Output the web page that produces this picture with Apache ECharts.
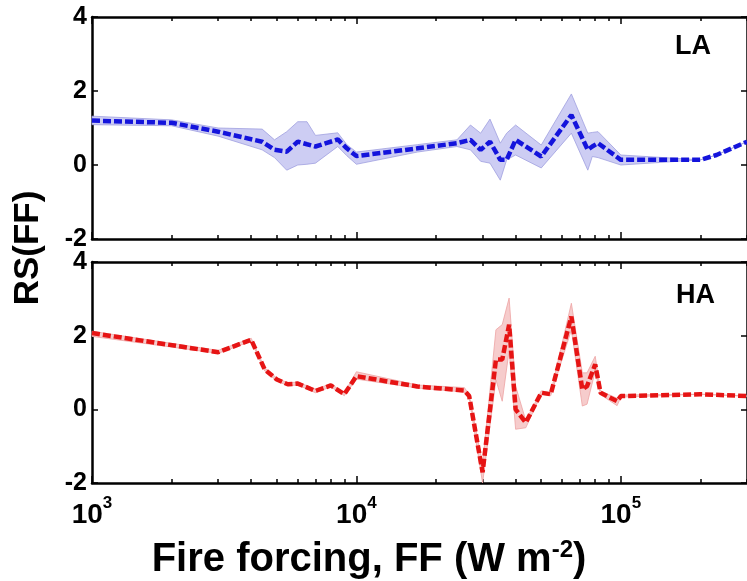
<!DOCTYPE html>
<html><head><meta charset="utf-8">
<script src="https://cdn.jsdelivr.net/npm/echarts@6/dist/echarts.min.js"></script>
<style>html,body{margin:0;padding:0;background:#fff}#c{width:747px;height:581px}</style>
</head><body><div id="c"></div>
<script>
// ---- data (x in W m^-2, values RS(FF)) ----
const laX    = [1000, 2000, 3000, 4400, 4900, 5450, 6000, 6500, 7000, 8500, 9200, 10000, 17000, 24000, 27000, 29500, 32000, 35000, 37000, 40000, 50000, 65000, 75000, 78000, 82000, 100000, 200000, 230000, 300000];
const laMean = [1.20, 1.14, 0.90, 0.63, 0.41, 0.36, 0.63, 0.56, 0.50, 0.69, 0.45, 0.24, 0.45, 0.59, 0.68, 0.41, 0.63, 0.14, 0.14, 0.68, 0.23, 1.35, 0.41, 0.50, 0.59, 0.14, 0.14, 0.27, 0.63];
const laLow  = [1.09, 1.06, 0.78, 0.41, 0.20, -0.14, 0.00, 0.02, 0.05, 0.50, 0.25, 0.02, 0.35, 0.50, 0.41, 0.10, 0.05, -0.41, 0.14, 0.27, -0.08, 0.86, -0.14, 0.23, 0.20, 0.00, 0.14, 0.27, 0.63];
const laHigh = [1.32, 1.22, 1.00, 0.97, 0.68, 0.90, 1.17, 1.17, 0.80, 0.87, 0.55, 0.35, 0.55, 0.68, 1.08, 0.86, 1.24, 0.59, 0.86, 1.08, 0.54, 1.92, 0.86, 0.88, 0.90, 0.27, 0.14, 0.27, 0.63];

const haX    = [1000, 3000, 4000, 4500, 5000, 5500, 6000, 7000, 8000, 9000, 10000, 17000, 25600, 26700, 30000, 33700, 35600, 37800, 40000, 43700, 50000, 54300, 65000, 71500, 74500, 80000, 83800, 96800, 100000, 200000, 300000];
const haMean = [2.07, 1.55, 1.89, 1.08, 0.81, 0.68, 0.70, 0.50, 0.65, 0.41, 0.90, 0.62, 0.51, 0.36, -1.71, 1.35, 1.35, 2.30, 0.00, -0.36, 0.45, 0.41, 2.52, 0.54, 0.63, 1.22, 0.45, 0.22, 0.36, 0.41, 0.36];
const haLow  = [1.98, 1.52, 1.85, 1.04, 0.77, 0.64, 0.66, 0.45, 0.61, 0.37, 0.82, 0.58, 0.47, 0.30, -2.00, 0.80, 0.22, 1.60, -0.54, -0.50, 0.41, 0.37, 2.16, 0.09, 0.14, 1.04, 0.40, 0.10, 0.33, 0.41, 0.36];
const haHigh = [2.12, 1.60, 1.93, 1.12, 0.85, 0.72, 0.74, 0.55, 0.69, 0.45, 1.02, 0.66, 0.59, 0.40, -1.50, 2.16, 2.30, 3.02, 0.63, -0.30, 0.50, 0.45, 2.88, 0.99, 0.99, 1.44, 0.50, 0.30, 0.39, 0.41, 0.36];

const xMin = 1000, xMax = 300000;
const xLabelExponents = [3, 4, 5];
const yTicks = [-2, 0, 2, 4];
const panelNames = ['LA', 'HA'];

// ---- helpers ----
const L = Math.log10;
const FONT = '"Liberation Sans", Arial, sans-serif';
const pairs = (xs, ys) => xs.map((x, i) => [L(x), ys[i]]);

const minorLogs = [];
for (let k = 3; k <= 5; k++) for (let m = 1; m <= 9; m++) { const v = m * Math.pow(10, k); if (v <= xMax) minorLogs.push(L(v)); }
const majorLogs = xLabelExponents.slice();

const grids = [
  { left: 92, top: 17, width: 656, height: 222 },
  { left: 92, top: 262, width: 656, height: 221 }
];

const xAxes = [];
const yAxes = [];
grids.forEach((g, gi) => {
  ['bottom', 'top'].forEach(pos => {
    xAxes.push({
      gridIndex: gi, type: 'value', position: pos, min: L(xMin), max: L(xMax), interval: 1,
      axisLine: { show: true, onZero: false, lineStyle: { color: '#000', width: 2.5 } },
      axisTick: { show: true, inside: true, length: 4, customValues: minorLogs, lineStyle: { color: '#000', width: 1.5 } },
      axisLabel: { show: false },
      splitLine: { show: false }
    });
    xAxes.push({
      gridIndex: gi, type: 'value', position: pos, min: L(xMin), max: L(xMax), interval: 1,
      axisLine: { show: false, onZero: false },
      axisTick: { show: true, inside: true, length: 7, customValues: majorLogs, lineStyle: { color: '#000', width: 1.5 } },
      axisLabel: (gi === 1 && pos === 'bottom') ? {
        show: true, customValues: xLabelExponents, margin: 12,
        formatter: v => '{b|10}{s|' + Math.round(v) + '}',
        rich: {
          b: { fontFamily: FONT, fontWeight: 'bold', fontSize: 28, color: '#000', lineHeight: 40 },
          s: { fontFamily: FONT, fontWeight: 'bold', fontSize: 17, color: '#000', verticalAlign: 'top', lineHeight: 18 }
        }
      } : { show: false },
      splitLine: { show: false }
    });
  });
  ['left', 'right'].forEach(pos => {
    yAxes.push({
      gridIndex: gi, type: 'value', position: pos, min: yTicks[0], max: yTicks[yTicks.length - 1], interval: 2,
      axisLine: { show: true, onZero: false, lineStyle: { color: '#000', width: 2.5 } },
      axisTick: { show: true, inside: true, length: 6, lineStyle: { color: '#000', width: 1.5 } },
      axisLabel: pos === 'left' ? { show: true, margin: 5, color: '#000', fontFamily: FONT, fontWeight: 'bold', fontSize: 25 } : { show: false },
      splitLine: { show: false }
    });
  });
});

function bandSeries(gi, xs, mean, lo, hi, lineColor, fill, edge) {
  const xi = gi * 4, yi = gi * 2;
  const rows = xs.map((x, i) => [L(x), lo[i], hi[i]]);
  return [
    { type: 'custom', xAxisIndex: xi, yAxisIndex: yi, data: rows, silent: true, z: 1,
      encode: { x: 0, y: [1, 2] },
      renderItem: (params, api) => {
        if (params.dataIndex !== 0) return null;
        const upper = rows.map(r => api.coord([r[0], r[2]]));
        const lower = rows.map(r => api.coord([r[0], r[1]])).reverse();
        return { type: 'polygon', shape: { points: upper.concat(lower) },
          style: { fill: fill, stroke: edge, lineWidth: 0.8 } };
      } },
    { type: 'line', xAxisIndex: xi, yAxisIndex: yi, data: pairs(xs, mean), symbol: 'none', silent: true, z: 3,
      lineStyle: { color: lineColor, width: 4.5, type: [8, 3] } }
  ];
}

const series = [
  ...bandSeries(0, laX, laMean, laLow, laHigh, '#1414dc', '#cdcdf3', '#a0a0e0'),
  ...bandSeries(1, haX, haMean, haLow, haHigh, '#e61414', '#f6cccc', '#eda3a3')
];

const chart = echarts.init(document.getElementById('c'), null, { renderer: 'canvas' });
chart.setOption({
  animation: false,
  backgroundColor: '#fff',
  grid: grids,
  xAxis: xAxes,
  yAxis: yAxes,
  series: series,
  graphic: [
    { type: 'text', left: 675, top: 33, style: { text: panelNames[0], font: 'bold 27px ' + FONT, fill: '#000' } },
    { type: 'text', left: 676, top: 282, style: { text: panelNames[1], font: 'bold 27px ' + FONT, fill: '#000' } },
    { type: 'text', x: 28, y: 248, rotation: Math.PI / 2,
      style: { text: 'RS(FF)', font: 'bold 35px ' + FONT, fill: '#000', align: 'center', verticalAlign: 'middle' } },
    { type: 'text', x: 369, y: 560,
      style: { text: '{t|Fire forcing, FF (W m}{s|-2}{t|)}', align: 'center', verticalAlign: 'middle',
        rich: {
          t: { fontFamily: FONT, fontWeight: 'bold', fontSize: 40, fill: '#000', lineHeight: 44 },
          s: { fontFamily: FONT, fontWeight: 'bold', fontSize: 24, fill: '#000', verticalAlign: 'top', lineHeight: 24 }
        } } }
  ]
});
</script></body></html>
